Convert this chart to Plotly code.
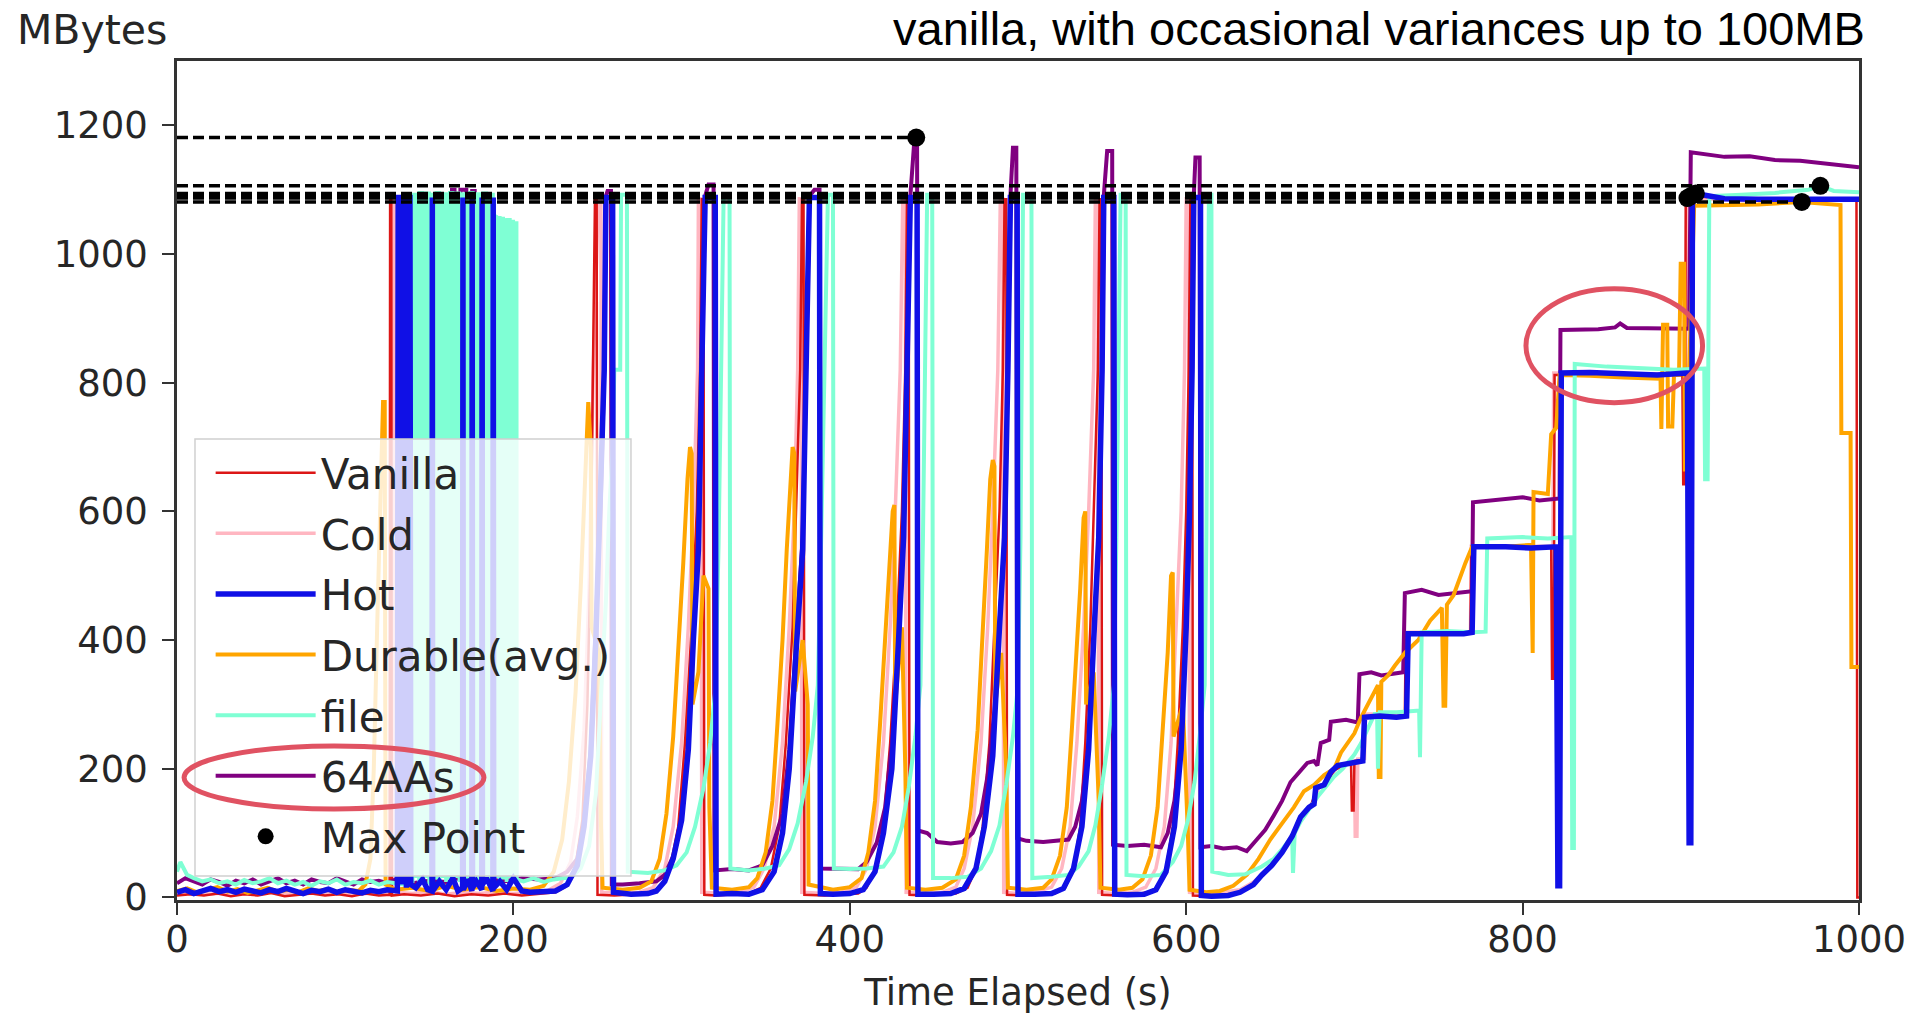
import plotly.graph_objects as go

# ---------------- text ----------------
TITLE = "vanilla, with occasional variances up to 100MB"
X_LABEL = "Time Elapsed (s)"
Y_LABEL = "MBytes"
X_TICKS = [0, 200, 400, 600, 800, 1000]
Y_TICKS = [0, 200, 400, 600, 800, 1000, 1200]

# ---------------- data: (time s, MBytes) ----------------
VANILLA = [(0,3),(8,5),(16,3),(24,6),(32,2),(40,5),(48,3),(56,7),(64,2),(72,4),(80,6),(88,3),(96,5),(104,2),(112,6),(120,3),
 (126.4,4),(126.7,1085),(127.4,1085),(127.7,3),(135,5),(145,3),(155,6),(165,2),(175,5),(185,3),(195,6),(205,3),(215,5),(225,8),
 (232,18),(237,50),(241,120),(244,300),(246,540),(247.5,820),(248.5,1085),(249.5,1085),(250,4),
 (260,3),(270,5),(280,6),(287,15),(293,45),(298,110),(302,240),(306,420),(309,600),(311,820),(312,1085),(313,1085),(313.5,4),
 (320,3),(330,5),(340,6),(347,15),(353,45),(358,110),(362,240),(366,420),(368,600),(370.5,820),(371.6,1085),(372.5,1085),(373,4),
 (385,3),(395,5),(405,6),(410,15),(415,45),(420,110),(424,240),(428,420),(431,600),(433,820),(434,1085),(435,1085),(435.5,4),
 (445,3),(455,5),(463,6),(470,15),(475,45),(479,110),(483,240),(486,420),(489,600),(491,820),(492,1085),(493,1085),(493.5,4),
 (505,3),(515,5),(522,6),(528,15),(533,45),(537,110),(540,240),(543,420),(545,600),(547.5,820),(548.5,1085),(549.5,1085),(550,4),
 (560,3),(570,5),(577,8),(583,15),(588,45),(592,110),(595,240),(598,420),(600,600),(601.5,820),(602.5,1085),(603.5,1085),(604,3),
 (615,2),(625,4),(632,8),(640,20),(646,35),(652,52),(658,72),(664,98),(669,128),(674,142),(678,170),(683,176),(688,198),(695,206),
 (698,208),(698.5,135),(699.5,135),(700,212),(705,214),(705.5,282),(730,282),(730.5,410),(769,410),(769.5,545),(817,545),
 (817.5,340),(818.5,340),(819,812),(860,812),(895,812),(895.5,642),(896.5,642),(897,1085),(900,1090),(930,1085),(960,1085),
 (998.5,1085),(999,0),(1000,0)]

COLD = [(0,6),(10,9),(20,5),(30,8),(40,6),(50,10),(60,7),(70,5),(80,9),(90,6),(100,8),(110,5),(120,9),(128,6),
 (128.5,1086),(130,1086),(130.5,8),(140,6),(150,9),(160,5),(170,8),(180,6),(190,9),(200,6),(210,8),(220,10),(228,22),(234,55),
 (238,125),(242,260),(245,480),(247.5,820),(250.5,1086),(252,1086),(252.5,8),
 (265,6),(275,8),(283,15),(290,45),(295,110),(300,240),(304,420),(307,600),(309.5,820),(310,1086),(311.5,1086),(312,8),
 (325,6),(335,8),(343,16),(349,45),(355,110),(360,240),(364,420),(367,600),(369,820),(370,1086),(371,1086),(371.5,8),
 (385,6),(395,8),(404,16),(410,45),(415,110),(420,240),(424,420),(427,600),(430,820),(431.5,1086),(433,1086),(433.5,8),
 (445,6),(455,8),(463,16),(468,45),(473,110),(478,240),(482,420),(485,600),(488,820),(489.5,1086),(491,1086),(491.5,8),
 (500,6),(510,8),(520,16),(526,45),(531,110),(535,240),(539,420),(542,600),(545,820),(546,1086),(547.5,1086),(548,8),
 (558,6),(568,8),(576,16),(582,45),(587,110),(591,240),(594,420),(597,600),(599,820),(600,1086),(601.5,1086),(602,8),
 (612,6),(622,8),(632,12),(640,24),(647,40),(653,58),(659,80),(665,106),(670,132),(675,146),(679,172),(684,180),(689,200),
 (696,209),(700,212),(700.5,95),(701.5,95),(702,215),(706,216),(706.5,285),(731,285),(731.5,412),(769,412),(769.5,546),
 (818,546),(818.5,815),(860,814),(897,814),(897.5,1086),(898,1087),(930,1083),(960,1084),(1000,1084)]

HOT = [(0,8),(5,12),(10,6),(15,10),(20,14),(25,9),(30,12),(35,8),(40,13),(45,10),(50,7),(55,12),(60,9),(65,14),(70,10),
 (75,6),(80,11),(85,9),(90,13),(95,8),(100,12),(105,10),(110,7),(115,11),(120,9),(125,12),
 (131,10),(131.5,1088),(133,1088),(133.4,20),(133.8,1088),(136,1088),(136.4,15),(136.8,1088),(138.5,1088),(139,20),
 (142,15),(146,28),(149,12),(151.6,10),(151.8,1088),(152,10),(156,25),(160,12),(164,30),(167,10),(169.8,15),(170,1088),
 (170.2,12),(173,28),(175.3,10),(175.5,1088),(175.7,15),(178,25),(181.2,12),(181.4,1088),(181.6,20),(184,30),(187.8,10),
 (188,1088),(188.3,15),(192,25),(196,12),(200,30),(205,10),(210,8),(215,8),(225,10),(232,20),(238,50),(242,110),(246,220),
 (249,400),(252,620),(254,820),(255,1088),(259,1088),(259.5,8),
 (270,5),(280,6),(285,10),(290,25),(295,60),(300,120),(304,230),(307,400),(310,540),(312,820),(314,1088),(320,1088),(320.5,5),
 (330,6),(340,5),(348,12),(355,40),(360,100),(364,200),(368,380),(372,540),(374,820),(376,1088),(382,1088),(382.5,6),
 (390,5),(400,6),(408,12),(415,40),(420,100),(425,200),(429,400),(432,560),(434,820),(436,1088),(440,1088),(440.5,5),
 (450,5),(460,6),(468,14),(475,45),(480,110),(485,220),(489,420),(492,560),(494,820),(495.5,1088),(499.5,1088),(500,5),
 (510,5),(520,6),(527,14),(533,45),(538,110),(542,230),(545,400),(548,560),(550,820),(551,1088),(557,1088),(557.5,5),
 (565,4),(575,5),(582,12),(588,40),(593,110),(597,230),(600,420),(602,600),(603.5,820),(604.5,1088),(608.5,1088),(609,3),
 (615,2),(625,3),(632,8),(640,20),(645,35),(651,50),(657,70),(663,95),(668,125),(673,140),(676,145),(677,170),(682,175),
 (686,195),(690,205),(700,210),(705,212),(706,280),(715,282),(725,280),(731,282),(732,410),(745,410),(755,408),(765,410),
 (770,412),(771,545),(790,545),(805,543),(820,545),(821,18),(822,18),(823,815),(840,816),(860,814),(880,812),(898,815),
 (899,85),(900,85),(901,1085),(903,1094),(920,1086),(940,1085),(960,1085),(980,1086),(1000,1085)]

DURABLE = [(0,10),(6,14),(12,8),(18,12),(24,16),(30,9),(36,13),(42,7),(48,11),(54,15),(60,9),(66,12),(72,8),(78,14),(84,10),
 (90,13),(96,8),(102,12),(108,10),(112,20),(115,60),(117,200),(119,420),(121,620),(122.5,770),(123.5,770),(124,20),(130,12),
 (140,15),(150,10),(160,18),(170,12),(180,16),(190,10),(200,14),(210,12),(218,18),(224,40),(229,90),(233,180),(237,320),
 (240,480),(242.5,640),(244.5,770),(246,700),(246.5,420),(251,380),(252,120),(253,15),
 (265,12),(275,15),(282,25),(287,60),(291,130),(295,250),(298,380),(301,520),(303.5,650),(305,700),(306,690),(306.5,300),
 (310,350),(313,500),(316,480),(316.5,140),(318,15),
 (330,12),(340,16),(345,30),(350,70),(354,150),(357,270),(360,400),(362.5,540),(364.5,650),(366,700),(367,690),(367.5,320),
 (372,400),(375,300),(375.5,20),
 (390,12),(400,16),(407,30),(411,70),(415,150),(418,270),(421,400),(423.5,520),(425.5,600),(426.5,610),(427,300),(431,420),
 (433,200),(434,15),
 (445,12),(455,15),(463,28),(468,65),(472,140),(476,260),(479,400),(481.5,540),(483.5,650),(485,680),(486,670),(486.5,300),
 (490,380),(493,200),(494,15),
 (505,12),(515,15),(520,28),(525,65),(529,140),(532,260),(535,380),(537,480),(539,590),(540,600),(540.5,300),(545,350),
 (548,150),(549,15),
 (560,12),(568,15),(574,28),(579,65),(583,140),(586,260),(589,380),(591,500),(592,505),(592.5,250),(598,300),(601,100),(602,12),
 (612,8),(620,10),(628,18),(636,35),(643,60),(650,90),(657,115),(664,140),(670,165),(676,175),(682,190),(688,200),(692,225),
 (696,240),(700,255),(704,280),(708,300),(712,320),(714,330),(714.5,187),(715.5,187),(716,335),(720,345),(724,360),(730,380),
 (738,400),(745,430),(752,450),(753,298),(754,298),(755,455),(759,470),(762,492),(766,520),(770,545),(790,545),(805,548),
 (806,380),(806.5,630),(815,627),(817,720),(820,730),(822,812),(840,811),(860,808),(882,806),(882.5,728),(883.5,890),
 (886,890),(886.5,732),(889,732),(890,812),(893,812),(894,985),(896,985),(896.5,665),(898,665),(899,820),(902,1075),
 (920,1076),(940,1077),(966,1081),(985,1076),(989,1076),(989.5,722),(995,722),(995.5,358),(1000,358)]

FILE = [(0,40),(2,55),(4,45),(6,35),(10,30),(15,25),(20,28),(25,22),(30,25),(35,20),(40,27),(45,22),(50,25),(55,30),(60,22),
 (65,26),(70,20),(75,24),(80,18),(85,25),(90,22),(95,28),(100,20),(105,24),(110,22),(115,26),(120,20),(125,24),(130,22),
 (135,20),(140,25),
 (140.4,1092),(141.8,1092),(142,30),(142.3,1092),(143.8,1092),(144,20),(144.3,1095),(145.8,1095),(146,25),(146.3,1092),
 (147.8,1092),(148,30),(148.3,1094),(149.8,1094),(150,20),(150.3,1092),(151.3,1092),(151.5,25),(152.2,1092),(153.8,1092),
 (154,28),(154.3,1095),(155.8,1095),(156,22),(156.3,1092),(157.8,1092),(158,30),(158.3,1093),(159.8,1093),(160,24),
 (160.3,1092),(161.8,1092),(162,28),(162.3,1095),(163.8,1095),(164,22),(164.3,1092),(165.8,1092),(166,30),(166.3,1094),
 (167.8,1094),(168,24),(168.3,1092),(169.8,1092),(170,26),(170.3,1093),(171.8,1093),(172,22),(172.3,1092),(173.8,1092),
 (174,30),(174.3,1095),(175.8,1095),(176,24),(176.3,1092),(177.8,1092),(178,28),(178.3,1093),(179.8,1093),(180,22),
 (180.3,1092),(181.8,1092),(182,26),(182.3,1094),(183.8,1094),(184,30),(184.3,1092),(185.8,1092),(186,24),(186.3,1092),
 (187.8,1092),(188,28),(188.3,1060),(189.8,1058),(190,30),(190.3,1056),(191.8,1056),(192,25),(192.3,1055),(193.8,1055),
 (194,28),(194.3,1052),(195.8,1052),(196,24),(196.3,1053),(197.8,1053),(198,30),(198.3,1050),(199.8,1050),(200,26),
 (200.3,1048),(201.8,1048),(202,28),
 (206,25),(212,30),(218,24),(224,28),(230,30),(234,30),(240,45),(245,80),(249,160),(252,300),(255,460),(257,600),(259,700),
 (260,820),(263.5,820),(264,1092),(267.5,1092),(268,40),
 (280,38),(290,42),(297,50),(303,70),(308,110),(313,170),(317,240),(320,320),(322,550),(323.5,820),(325,1092),(328.5,1092),(329,45),
 (340,42),(350,45),(358,50),(364,75),(369,115),(374,180),(378,250),(381,330),(383,560),(385,820),(387,1092),(390,1092),(390.5,45),
 (400,44),(410,45),(420,48),(426,70),(431,110),(435,170),(439,250),(442,330),(443.5,560),(445,820),(446,1092),(449,1092),(449.5,30),
 (460,30),(470,32),(478,45),(484,72),(489,112),(493,175),(497,250),(500,330),(501.5,560),(502.5,820),(503,1092),(508,1092),(508.5,30),
 (520,32),(530,35),(536,48),(542,72),(546,112),(550,175),(554,250),(557,330),(558.5,560),(560,820),(561,1092),(564,1092),(564.5,35),
 (575,33),(585,35),(592,55),(597,80),(601,120),(605,180),(608,250),(611,330),(612,560),(613,820),(613.5,1092),(615,1092),(615.5,40),
 (625,35),(635,36),(645,48),(652,60),(658,78),(663,95),(663.5,38),(664.5,100),(668,118),(673,138),(678,156),(683,172),
 (688,188),(693,200),(697,212),(700,222),(704,240),(708,262),(712,285),(713.5,285),(714,200),(715,288),(725,288),(737,290),
 (738.5,290),(739,218),(740,412),(755,414),(770,412),(778,413),(779,558),(800,560),(815,558),(829,560),(829.5,77),
 (830.5,77),(831,829),(850,825),(870,822),(890,820),(908,822),(908.5,650),(910,650),(911,1090),(930,1092),(950,1095),
 (970,1100),(977,1106),(985,1098),(1000,1096)]

AAS64 = [(0,22),(5,30),(10,25),(15,20),(20,28),(25,24),(30,18),(35,26),(40,22),(45,28),(50,20),(55,25),(60,30),(65,22),
 (70,26),(75,20),(80,28),(85,24),(90,22),(95,30),(100,25),(105,20),(110,28),(115,24),(120,26),(125,22),(130,28),(135,24),
 (140,22),(150,26),(160,24),(163,25),(163.5,1100),(165,1100),(165.5,30),(168,28),(168.5,1100),(172,1100),(172.5,25),
 (175,28),(175.5,1098),(177,1098),(177.5,30),(185,28),(195,25),(205,30),(215,28),(225,30),(232,40),(238,60),(242,120),
 (246,230),(249,420),(252,620),(254,820),(255,1090),(256,1098),(258,1098),(258.5,20),
 (265,20),(275,22),(285,25),(290,35),(296,70),(300,130),(304,240),(307,420),(310,560),(312,820),(314,1090),(316,1108),
 (319,1108),(319.5,42),(330,44),(340,42),
 (348,50),(354,80),(360,130),(364,230),(368,400),(372,560),(374,820),(376,1090),(379,1100),(382,1100),(382.5,45),(395,45),(405,44),
 (410,55),(416,85),(421,140),(425,240),(429,410),(432,560),(434,820),(436,1090),(438.5,1181),(440,1181),(440.5,104),
 (446,100),(452,86),(460,84),(467,86),
 (473,100),(478,130),(482,190),(486,290),(489,430),(492,560),(494,820),(495.5,1090),(497,1165),(499,1165),(499.5,92),
 (505,88),(515,86),(525,88),(530,90),
 (534,110),(538,150),(542,240),(545,400),(548,560),(550,820),(551,1090),(553,1160),(556,1160),(556.5,82),(565,80),(575,82),(585,78),
 (589,100),(593,150),(597,240),(600,420),(602,600),(603.5,820),(604.5,1090),(605.5,1150),(608,1150),(608.5,78),
 (615,80),(622,76),(630,78),(636,72),(642,90),(647,105),(652,127),(657,150),(662,179),(667,195),(672,209),(676,212),
 (678,205),(680,240),(685,245),(686,273),(695,276),(702,272),(703,347),(710,350),(716,345),(724,348),(729,350),(730,473),
 (740,478),(750,470),(761,474),(770,476),(770.5,614),(785,618),(800,622),(810,617),(818,620),(822,620),(822.5,882),
 (845,883),(855,886),(858,892),(862,885),(880,884),(899,884),(900,1158),(910,1155),(920,1151),(935,1152),(950,1146),
 (965,1145),(980,1141),(995,1137),(1000,1135)]

# maximum point of each series
MAX_NAMES = ["Vanilla", "Cold", "Hot", "Durable(avg.)", "file", "64AAs"]
MAX_T = [900, 898, 903, 966, 977, 439.5]
MAX_V = [1090, 1087, 1094, 1081, 1106, 1181]

# ---------------- styles ----------------
FONT = "DejaVu Sans"
TEXT_COLOR = "#262626"
STYLE = {
    "Vanilla":       dict(color="#dc1616", width=2.5, rank=1),
    "Cold":          dict(color="#ffb6c1", width=3.5, rank=2),
    "Hot":           dict(color="#1010e6", width=5.5, rank=3),
    "Durable(avg.)": dict(color="#ffa500", width=4,   rank=4),
    "file":          dict(color="#7fffd4", width=4,   rank=5),
    "64AAs":         dict(color="#800080", width=4,   rank=6),
}
# drawing order (bottom -> top)
DRAW = [("Cold", COLD), ("Vanilla", VANILLA), ("64AAs", AAS64), ("Durable(avg.)", DURABLE), ("file", FILE), ("Hot", HOT)]

fig = go.Figure()
for name, pts in DRAW:
    st = STYLE[name]
    fig.add_trace(go.Scatter(
        x=[p[0] for p in pts], y=[p[1] for p in pts], mode="lines", name=name,
        line=dict(color=st["color"], width=st["width"]),
        legendrank=st["rank"], legendgroup=name, hoverinfo="skip"))

for t, v in zip(MAX_T, MAX_V):
    fig.add_trace(go.Scatter(
        x=[0, t], y=[v, v], mode="lines", showlegend=False, hoverinfo="skip",
        line=dict(color="black", width=3.5, dash="11px,5px")))

fig.add_trace(go.Scatter(
    x=MAX_T, y=MAX_V, mode="markers", name="Max Point", legendrank=7, legendgroup="max",
    marker=dict(color="black", size=18), hoverinfo="skip"))

axis_common = dict(
    showgrid=False, zeroline=False, showline=True, mirror=True,
    linecolor="#333333", linewidth=2.5, ticks="outside", ticklen=12, tickwidth=2,
    tickcolor="#333333", tickfont=dict(family=FONT, size=37, color=TEXT_COLOR), automargin=False)

fig.update_layout(
    width=1914, height=1016,
    margin=dict(l=177, r=55, t=61, b=116),
    paper_bgcolor="white", plot_bgcolor="white",
    xaxis=dict(range=[0, 1000], tickvals=X_TICKS, ticklabelstandoff=-7,
               title=dict(text=X_LABEL, font=dict(family=FONT, size=37, color=TEXT_COLOR), standoff=19),
               **axis_common),
    yaxis=dict(range=[-4, 1300], tickvals=Y_TICKS, ticklabelstandoff=7, **axis_common),
    legend=dict(x=0.0200, y=0.5495, xanchor="left", yanchor="top",
                bgcolor="rgba(0,0,0,0)", borderwidth=0, itemwidth=100, tracegroupgap=3,
                font=dict(family=FONT, size=42, color=TEXT_COLOR), traceorder="grouped"),
    showlegend=True,
    annotations=[
        dict(text=TITLE, xref="paper", yref="paper", x=1.0048, y=1.0045, xanchor="right", yanchor="bottom",
             showarrow=False, font=dict(family="Liberation Sans", size=47, color="black")),
        dict(text=Y_LABEL, xref="paper", yref="paper", x=-0.0963, y=1.0060, xanchor="left", yanchor="bottom",
             showarrow=False, font=dict(family=FONT, size=41, color=TEXT_COLOR)),
    ],
    shapes=[
        # legend frame (semi-transparent, drawn under the legend entries)
        dict(type="rect", xref="paper", yref="paper", x0=0.0107, x1=0.2699, y0=0.0286, y1=0.5495,
             fillcolor="rgba(255,255,255,0.8)", line=dict(color="#d0d0d0", width=1.5), layer="above"),
        # red highlight ellipses
        dict(type="circle", xref="paper", yref="paper", x0=0.0042, x1=0.1825, y0=0.1085, y1=0.1835,
             line=dict(color="#e05262", width=5), layer="above"),
        dict(type="circle", xref="x", yref="y", x0=802, x1=907, y0=769, y1=946,
             line=dict(color="#e05262", width=5), layer="above"),
    ],
)

fig.write_html("out.html", config={"displayModeBar": False},
               post_script="document.body.style.margin='0';document.body.style.overflow='hidden';")
